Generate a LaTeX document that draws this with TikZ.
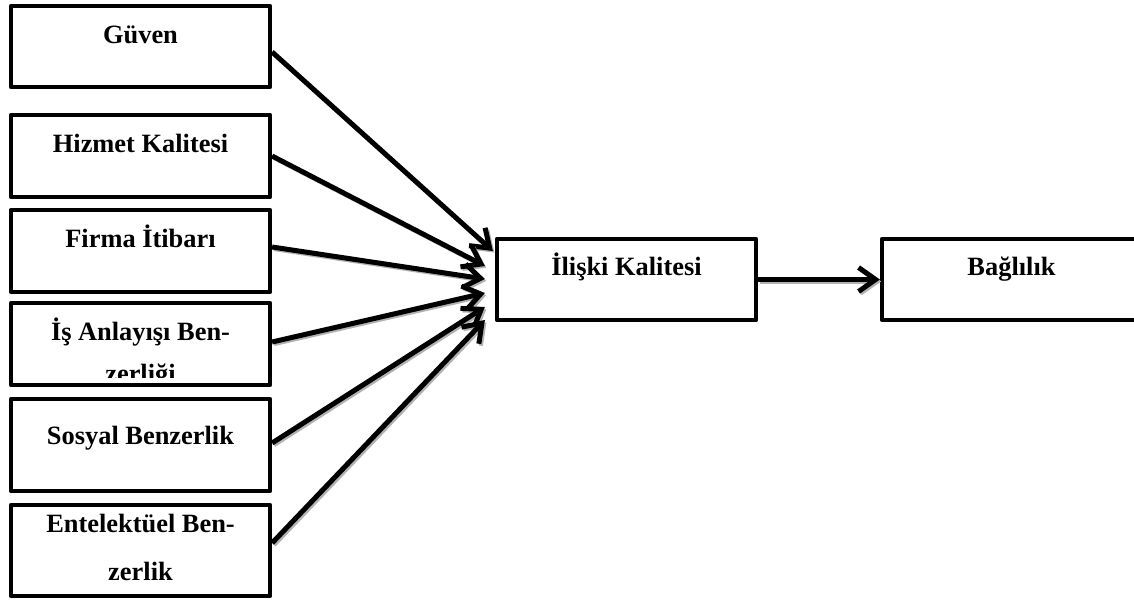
\documentclass[tikz,border=0pt]{standalone}
\usepackage{fontspec}
\setmainfont{Liberation Serif}
\usetikzlibrary{arrows.meta}

\begin{document}
\begin{tikzpicture}[x=0.5pt,y=0.5pt,>={Straight Barb[length=8.5pt,width=12pt]},line width=2.1pt,
  every edge/.style={draw,line width=2.5pt,preaction={draw=black!30,transform canvas={shift={(1pt,-1pt)}}}},
  kutu/.style={draw,line join=round,inner sep=0pt,text width=129.5pt,align=flush center,
    font=\bfseries\fontsize{13.2}{24}\selectfont,text height=18.5pt,text depth=22.5pt}]

\useasboundingbox (0,0) rectangle (1134,-601);

\node[kutu,text depth=22pt] (guven) at (140.5,-46.5) {Güven};
 \node[kutu] (hizmet) [node distance=54.75pt,below of=guven] {Hizmet Kalitesi};
 \node[kutu] (firma) [node distance=47.5pt,below of=hizmet] {Firma İtibarı};
 \node[kutu] (is) [node distance=46.5pt,below of=firma] {};
 \begin{scope}
  \clip ([yshift=5pt]is.south west) rectangle (is.north east);
  \node[kutu,draw=none] (istext) at (is) {İş Anlayışı Ben-\\[-3pt]zerliği};
 \end{scope}
 \node[kutu,text height=22.5pt,text depth=23.5pt] (sosyal) [node distance=50.5pt,below of=is] {Sosyal Benzerlik};
 \node[kutu,text height=13.5pt,text depth=32pt] (entel) [node distance=52.75pt,below of=sosyal] {Entelektüel Ben-\\zerlik};

\node[kutu,text height=18pt] (ik) at (626.5,-279.5) {İlişki Kalitesi};
 \node[kutu,text height=18pt] (bag) [node distance=192.5pt,right of=ik] {Bağlılık};

\path[->] ([yshift=-2.75pt]guven.east) edge ([xshift=-1pt,yshift=14.25pt]ik.west)
          (hizmet.east) edge ([xshift=-5pt,yshift=6.75pt]ik.west)
          ([yshift=2pt]firma.east) edge ([xshift=-5pt,yshift=0.25pt]ik.west)
          ([yshift=1pt]is.east) edge ([xshift=-5pt,yshift=-6.75pt]ik.west)
          ([yshift=1pt]sosyal.east) edge ([xshift=-5pt,yshift=-13.75pt]ik.west)
          ([yshift=3.75pt]entel.east) edge ([xshift=-5pt,yshift=-20.25pt]ik.west)
          (ik) edge (bag);
\end{tikzpicture}
\end{document}
